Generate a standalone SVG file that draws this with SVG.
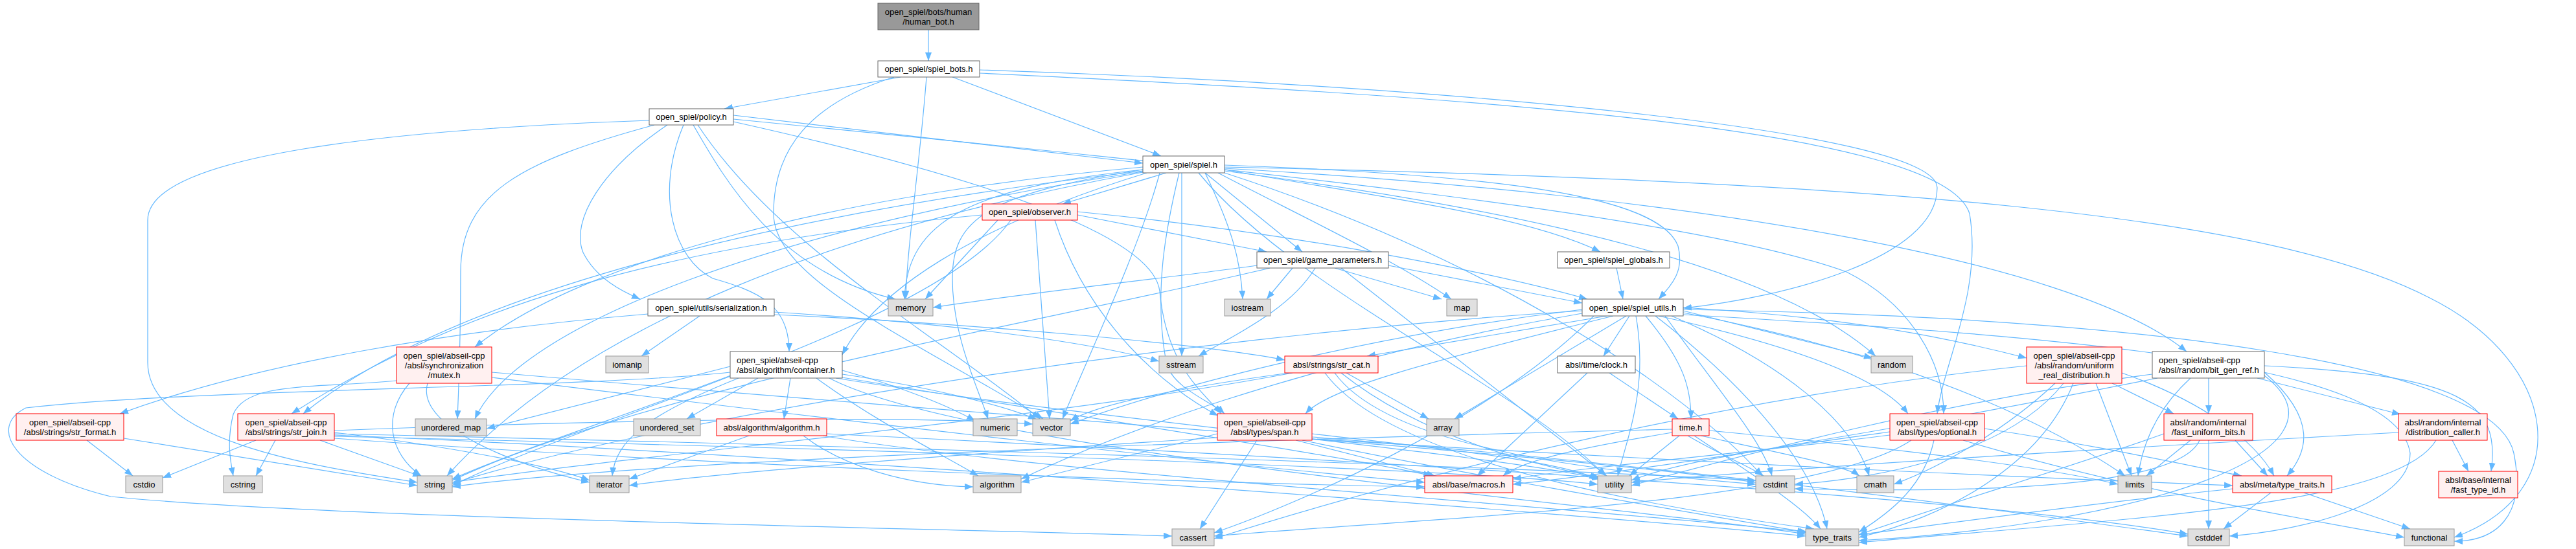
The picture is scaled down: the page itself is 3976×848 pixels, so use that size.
<svg xmlns="http://www.w3.org/2000/svg" width="3976" height="848" viewBox="0 0 3976 848">
<defs>
<marker id="a" markerUnits="userSpaceOnUse" markerWidth="13" markerHeight="10" refX="13" refY="5" orient="auto">
<path d="M0,0 L13,5 L0,10 z" fill="#63B8FF"/>
</marker>
<style>
#edges path{fill:none;stroke:#63B8FF;stroke-width:1.2;marker-end:url(#a)}
.node rect{stroke-width:1}
.w rect{fill:#FFFFFF;stroke:#666666}
.g rect{fill:#E0E0E0;stroke:#999999}
.r rect{fill:#FFF0F0;stroke:#FF0000}
.h rect{fill:#999999;stroke:#666666}
.node text{font-family:"Liberation Sans",Arial,Helvetica,sans-serif;font-size:13px;fill:#000000;text-anchor:middle}
.node text.l{text-anchor:start}
</style>
</defs>
<rect x="0" y="0" width="3976" height="848" fill="#FFFFFF"/>
<g id="edges">
<path d="M1433,46 L1433,94"/>
<path d="M1390,119 L1118,168"/>
<path d="M1470,119 L1792,241"/>
<path d="M1430,119 C1420,250 1400,380 1398,462"/>
<path d="M1512,108 C2200,130 2990,200 2990,290 C2990,400 2750,460 2598,476"/>
<path d="M1512,113 C2300,150 3000,200 3040,330 C3060,450 3000,560 2990,639"/>
<path d="M1380,119 C1250,160 1194,230 1194,330 C1194,430 1400,520 1610,647"/>
<path d="M1002,186 C600,200 228,240 228,340 L228,560 C228,680 480,720 644,745"/>
<path d="M1010,193 C800,250 711,300 711,420 C711,520 708,600 706,647"/>
<path d="M1030,193 C930,260 880,340 900,390 C920,430 960,450 988,462"/>
<path d="M1055,193 C1010,300 1040,400 1100,430 C1170,450 1218,470 1218,543"/>
<path d="M1070,193 C1120,280 1200,420 1382,462"/>
<path d="M1077,193 C1200,380 1450,520 1605,647"/>
<path d="M1132,178 L1764,252"/>
<path d="M1132,184 C1900,260 2600,330 2850,420 C2950,470 3000,560 3000,639"/>
<path d="M1132,188 C1500,270 1780,360 1790,450 C1800,560 1850,600 1885,639"/>
<path d="M1800,267 L1640,315"/>
<path d="M1860,267 L2010,389"/>
<path d="M1890,262 C2100,300 2350,330 2470,389"/>
<path d="M1890,255 C2300,270 2560,300 2590,380 C2600,420 2580,440 2560,462"/>
<path d="M1764,262 C1500,290 1400,340 1396,462"/>
<path d="M1860,267 C1900,350 1915,400 1918,462"/>
<path d="M1880,267 C2000,330 2150,400 2240,462"/>
<path d="M1824,267 L1824,550"/>
<path d="M1764,258 C1300,300 900,400 733,536"/>
<path d="M1764,264 C1200,330 700,450 468,639"/>
<path d="M1764,266 C1300,350 900,500 690,735"/>
<path d="M1790,267 C1760,380 1680,550 1640,647"/>
<path d="M1764,262 C1520,300 1470,340 1470,430 C1470,520 1510,600 1525,647"/>
<path d="M1820,267 C1800,350 1780,450 1800,560 C1810,600 1870,620 1890,639"/>
<path d="M1890,264 C2400,330 2750,420 2895,550"/>
<path d="M1890,258 C2900,280 3500,330 3750,460 C3950,560 3980,760 3788,830"/>
<path d="M1764,265 C1200,350 800,500 733,647"/>
<path d="M1850,267 C2000,450 2350,600 2478,735"/>
<path d="M1890,267 C2300,400 2600,600 2720,735"/>
<path d="M1890,260 C2600,300 3200,400 3375,543"/>
<path d="M1770,267 C1500,350 1350,450 1300,548"/>
<path d="M1663,332 L1955,389"/>
<path d="M1663,327 C2000,360 2300,420 2450,462"/>
<path d="M1540,340 L1428,462"/>
<path d="M1560,340 C1450,500 900,650 698,740"/>
<path d="M1516,332 C1000,380 700,480 450,639"/>
<path d="M1598,340 L1620,647"/>
<path d="M1628,340 C1680,500 1800,600 1880,642"/>
<path d="M1940,410 C1800,430 1600,450 1440,475"/>
<path d="M1995,414 L1955,462"/>
<path d="M2030,414 C1990,480 1900,520 1850,550"/>
<path d="M2060,414 L2225,462"/>
<path d="M2070,414 L2480,735"/>
<path d="M2143,410 L2442,468"/>
<path d="M1960,414 C1600,500 1000,600 698,742"/>
<path d="M2495,414 L2505,462"/>
<path d="M1080,488 L990,550"/>
<path d="M1195,482 C1400,495 1650,520 1789,558"/>
<path d="M1195,486 C1500,500 1850,530 1983,556"/>
<path d="M1000,485 C700,510 400,560 185,639"/>
<path d="M632,592 C590,640 600,700 650,735"/>
<path d="M612,588 C480,600 380,590 360,640 C350,680 355,710 360,735"/>
<path d="M660,592 C640,660 800,720 910,745"/>
<path d="M759,575 C1500,640 2400,700 2710,745"/>
<path d="M759,583 C1300,650 1900,720 2199,745"/>
<path d="M1127,566 L751,662"/>
<path d="M1170,584 L1060,647"/>
<path d="M1220,584 L1210,647"/>
<path d="M1140,584 C1000,640 950,680 945,735"/>
<path d="M1130,580 C950,650 800,700 698,750"/>
<path d="M1127,575 C900,600 300,600 40,630 C-20,660 20,730 171,767 C500,800 1400,815 1809,828"/>
<path d="M1260,584 C1350,650 1450,700 1510,735"/>
<path d="M1300,572 C1400,600 1470,630 1505,650"/>
<path d="M1300,578 C1450,600 1560,630 1600,648"/>
<path d="M1280,584 C1500,700 2500,780 2787,825"/>
<path d="M1290,584 C1700,650 2300,700 2470,740"/>
<path d="M1300,583 C1700,650 2050,700 2210,735"/>
<path d="M1156,673 L971,740"/>
<path d="M1240,673 C1300,720 1400,750 1502,752"/>
<path d="M1270,673 C1600,730 2400,780 2790,822"/>
<path d="M1276,670 C1900,700 3000,760 3377,825"/>
<path d="M134,680 L205,735"/>
<path d="M191,677 L644,750"/>
<path d="M395,680 L251,738"/>
<path d="M425,680 L395,735"/>
<path d="M494,680 L650,736"/>
<path d="M516,668 C700,690 850,720 910,742"/>
<path d="M516,672 C1200,700 2400,790 2787,828"/>
<path d="M516,674 C1200,690 2200,720 2466,748"/>
<path d="M516,665 C900,650 1400,640 1594,655"/>
<path d="M516,677 C1100,720 1800,745 2199,752"/>
<path d="M516,670 C1400,690 2300,720 2710,742"/>
<path d="M1990,576 C1850,595 1700,620 1652,650"/>
<path d="M1995,576 C1600,650 1000,700 698,745"/>
<path d="M2078,576 L2205,647"/>
<path d="M2060,576 C2150,700 2500,730 2710,748"/>
<path d="M2070,576 C2200,680 2380,720 2470,738"/>
<path d="M2045,576 C2150,720 2600,790 2800,817"/>
<path d="M2450,576 L2280,735"/>
<path d="M2484,576 L2590,647"/>
<path d="M2592,673 L2515,735"/>
<path d="M2581,668 C2450,690 2350,710 2320,735"/>
<path d="M2581,663 C1900,680 1000,710 698,752"/>
<path d="M2605,673 C2650,700 2700,720 2722,735"/>
<path d="M2625,673 C2750,700 2850,720 2870,735"/>
<path d="M2638,665 C2900,690 3150,720 3269,748"/>
<path d="M2615,673 C2700,730 2780,780 2810,817"/>
<path d="M1879,670 L1576,745"/>
<path d="M1940,680 L1852,817"/>
<path d="M2025,675 C2600,720 3100,790 3377,828"/>
<path d="M1879,676 C1500,700 1100,730 971,750"/>
<path d="M2010,680 C2300,740 2600,790 2787,822"/>
<path d="M2025,670 C2200,690 2400,710 2466,740"/>
<path d="M2000,680 L2215,735"/>
<path d="M2025,678 C2700,720 3200,740 3446,750"/>
<path d="M2917,667 C2750,690 2600,710 2518,742"/>
<path d="M2917,672 C2700,700 2450,720 2335,740"/>
<path d="M2950,680 C2800,780 2200,800 1874,828"/>
<path d="M2985,680 C2970,750 2920,790 2869,822"/>
<path d="M3030,680 C3300,760 3550,800 3711,830"/>
<path d="M3063,662 C3250,690 3380,720 3460,735"/>
<path d="M3172,592 C3100,660 3000,720 2923,748"/>
<path d="M3200,592 C3150,720 3000,800 2869,830"/>
<path d="M3185,592 C3100,700 2900,740 2770,748"/>
<path d="M3235,592 L3290,735"/>
<path d="M3275,576 C3400,620 3480,680 3510,735"/>
<path d="M3260,592 L3355,639"/>
<path d="M3128,565 C2600,620 2100,760 1874,832"/>
<path d="M3409,584 L3409,639"/>
<path d="M3484,584 L3705,640"/>
<path d="M3495,565 C3800,580 3860,620 3845,728"/>
<path d="M3495,575 C3580,650 3560,700 3530,735"/>
<path d="M3381,584 C3320,640 3305,700 3300,735"/>
<path d="M3495,580 C3650,700 3300,810 2869,835"/>
<path d="M3322,578 C3000,620 2700,700 2518,750"/>
<path d="M3330,584 C3000,650 2600,720 2335,748"/>
<path d="M3381,680 L3313,735"/>
<path d="M3450,680 L3500,735"/>
<path d="M3409,680 L3409,817"/>
<path d="M3395,680 C3360,760 3000,760 2770,755"/>
<path d="M3340,670 C3200,720 3000,780 2869,826"/>
<path d="M3785,680 L3810,728"/>
<path d="M3702,668 C3300,690 2800,720 2518,745"/>
<path d="M3760,680 C3700,780 3300,800 2869,838"/>
<path d="M3505,761 L3432,817"/>
<path d="M3556,761 L3720,817"/>
<path d="M3446,755 C3200,780 3000,810 2869,826"/>
<path d="M2480,488 L2110,550"/>
<path d="M2510,488 L2245,647"/>
<path d="M2515,488 L2475,550"/>
<path d="M2525,488 C2545,600 2510,680 2497,735"/>
<path d="M2540,488 C2600,560 2610,600 2610,647"/>
<path d="M2490,488 C2200,560 2050,600 2015,639"/>
<path d="M2560,488 C2750,530 2900,580 2945,639"/>
<path d="M2598,480 L2890,553"/>
<path d="M2598,475 C2850,490 3000,520 3128,553"/>
<path d="M2570,488 C2650,600 2720,680 2735,735"/>
<path d="M2580,488 C2750,560 2860,650 2885,735"/>
<path d="M2555,488 C2700,600 2800,720 2820,817"/>
<path d="M2598,486 C3200,520 3700,560 3720,700 C3720,780 3550,820 3441,828"/>
<path d="M2598,478 C3300,490 3850,560 3880,700 C3900,800 3850,836 3788,836"/>
<path d="M2442,480 C1800,520 1000,650 698,747"/>
<path d="M2442,478 C2100,520 1800,600 1652,655"/>
<path d="M2442,484 C2000,560 1700,680 1576,740"/>
<path d="M2460,488 C2300,650 2000,780 1874,823"/>
<path d="M2598,483 C3000,560 3200,680 3280,735"/>
</g>
<g id="n_human_bot" class="node h"><rect x="1355" y="5" width="156" height="41"/><text x="1433" y="22.5">open_spiel/bots/human</text><text x="1433" y="37.5">/human_bot.h</text></g>
<g id="n_spiel_bots" class="node w"><rect x="1355" y="94" width="157" height="25"/><text x="1433.5" y="111">open_spiel/spiel_bots.h</text></g>
<g id="n_policy" class="node w"><rect x="1002" y="168" width="130" height="25"/><text x="1067" y="185">open_spiel/policy.h</text></g>
<g id="n_spiel" class="node w"><rect x="1764" y="241" width="126" height="26"/><text x="1827" y="258.5">open_spiel/spiel.h</text></g>
<g id="n_observer" class="node r"><rect x="1516" y="315" width="147" height="25"/><text x="1589.5" y="332">open_spiel/observer.h</text></g>
<g id="n_game_parameters" class="node w"><rect x="1940" y="389" width="203" height="25"/><text x="2041.5" y="406">open_spiel/game_parameters.h</text></g>
<g id="n_spiel_globals" class="node w"><rect x="2404" y="389" width="173" height="25"/><text x="2490.5" y="406">open_spiel/spiel_globals.h</text></g>
<g id="n_serialization" class="node w"><rect x="1000" y="462" width="195" height="26"/><text x="1097.5" y="479.5">open_spiel/utils/serialization.h</text></g>
<g id="n_memory" class="node g"><rect x="1371" y="462" width="69" height="26"/><text x="1405.5" y="479.5">memory</text></g>
<g id="n_iostream" class="node g"><rect x="1890" y="462" width="71" height="26"/><text x="1925.5" y="479.5">iostream</text></g>
<g id="n_map" class="node g"><rect x="2233" y="462" width="47" height="26"/><text x="2256.5" y="479.5">map</text></g>
<g id="n_spiel_utils" class="node w"><rect x="2442" y="462" width="156" height="26"/><text x="2520" y="479.5">open_spiel/spiel_utils.h</text></g>
<g id="n_mutex" class="node r"><rect x="612" y="536" width="147" height="56"/><text x="685.5" y="553.5">open_spiel/abseil-cpp</text><text x="685.5" y="568.5">/absl/synchronization</text><text x="685.5" y="583.5">/mutex.h</text></g>
<g id="n_iomanip" class="node g"><rect x="935" y="550" width="66" height="26"/><text x="968" y="567.5">iomanip</text></g>
<g id="n_container" class="node w"><rect x="1127" y="543" width="173" height="41"/><text class="l" x="1137" y="560.5">open_spiel/abseil-cpp</text><text class="l" x="1137" y="575.5">/absl/algorithm/container.h</text></g>
<g id="n_sstream" class="node g"><rect x="1789" y="550" width="68" height="26"/><text x="1823" y="567.5">sstream</text></g>
<g id="n_str_cat" class="node r"><rect x="1983" y="550" width="144" height="26"/><text x="2055" y="567.5">absl/strings/str_cat.h</text></g>
<g id="n_clock" class="node w"><rect x="2404" y="550" width="120" height="26"/><text x="2464" y="567.5">absl/time/clock.h</text></g>
<g id="n_random" class="node g"><rect x="2888" y="550" width="64" height="26"/><text x="2920" y="567.5">random</text></g>
<g id="n_uniform_real" class="node r"><rect x="3128" y="536" width="147" height="56"/><text x="3201.5" y="553.5">open_spiel/abseil-cpp</text><text x="3201.5" y="568.5">/absl/random/uniform</text><text x="3201.5" y="583.5">_real_distribution.h</text></g>
<g id="n_bit_gen_ref" class="node w"><rect x="3322" y="543" width="173" height="41"/><text class="l" x="3332" y="560.5">open_spiel/abseil-cpp</text><text class="l" x="3332" y="575.5">/absl/random/bit_gen_ref.h</text></g>
<g id="n_str_format" class="node r"><rect x="25" y="639" width="166" height="41"/><text x="108" y="656.5">open_spiel/abseil-cpp</text><text x="108" y="671.5">/absl/strings/str_format.h</text></g>
<g id="n_str_join" class="node r"><rect x="367" y="639" width="149" height="41"/><text x="441.5" y="656.5">open_spiel/abseil-cpp</text><text x="441.5" y="671.5">/absl/strings/str_join.h</text></g>
<g id="n_unordered_map" class="node g"><rect x="641" y="647" width="110" height="26"/><text x="696" y="664.5">unordered_map</text></g>
<g id="n_unordered_set" class="node g"><rect x="978" y="647" width="103" height="26"/><text x="1029.5" y="664.5">unordered_set</text></g>
<g id="n_algorithm_h" class="node r"><rect x="1106" y="647" width="170" height="26"/><text x="1191" y="664.5">absl/algorithm/algorithm.h</text></g>
<g id="n_numeric" class="node g"><rect x="1502" y="647" width="68" height="26"/><text x="1536" y="664.5">numeric</text></g>
<g id="n_vector" class="node g"><rect x="1594" y="647" width="58" height="26"/><text x="1623" y="664.5">vector</text></g>
<g id="n_span" class="node r"><rect x="1879" y="639" width="146" height="41"/><text x="1952" y="656.5">open_spiel/abseil-cpp</text><text x="1952" y="671.5">/absl/types/span.h</text></g>
<g id="n_array" class="node g"><rect x="2202" y="647" width="50" height="26"/><text x="2227" y="664.5">array</text></g>
<g id="n_time" class="node r"><rect x="2581" y="647" width="57" height="26"/><text x="2609.5" y="664.5">time.h</text></g>
<g id="n_optional" class="node r"><rect x="2917" y="639" width="146" height="41"/><text x="2990" y="656.5">open_spiel/abseil-cpp</text><text x="2990" y="671.5">/absl/types/optional.h</text></g>
<g id="n_fast_uniform_bits" class="node r"><rect x="3340" y="639" width="137" height="41"/><text x="3408.5" y="656.5">absl/random/internal</text><text x="3408.5" y="671.5">/fast_uniform_bits.h</text></g>
<g id="n_distribution_caller" class="node r"><rect x="3702" y="639" width="137" height="41"/><text x="3770.5" y="656.5">absl/random/internal</text><text x="3770.5" y="671.5">/distribution_caller.h</text></g>
<g id="n_cstdio" class="node g"><rect x="194" y="735" width="57" height="26"/><text x="222.5" y="752.5">cstdio</text></g>
<g id="n_cstring" class="node g"><rect x="345" y="735" width="60" height="26"/><text x="375" y="752.5">cstring</text></g>
<g id="n_string" class="node g"><rect x="644" y="735" width="54" height="26"/><text x="671" y="752.5">string</text></g>
<g id="n_iterator" class="node g"><rect x="910" y="735" width="61" height="26"/><text x="940.5" y="752.5">iterator</text></g>
<g id="n_algorithm" class="node g"><rect x="1502" y="735" width="74" height="26"/><text x="1539" y="752.5">algorithm</text></g>
<g id="n_macros" class="node r"><rect x="2199" y="735" width="136" height="26"/><text x="2267" y="752.5">absl/base/macros.h</text></g>
<g id="n_utility" class="node g"><rect x="2466" y="735" width="52" height="26"/><text x="2492" y="752.5">utility</text></g>
<g id="n_cstdint" class="node g"><rect x="2710" y="735" width="60" height="26"/><text x="2740" y="752.5">cstdint</text></g>
<g id="n_cmath" class="node g"><rect x="2866" y="735" width="57" height="26"/><text x="2894.5" y="752.5">cmath</text></g>
<g id="n_limits" class="node g"><rect x="3269" y="735" width="52" height="26"/><text x="3295" y="752.5">limits</text></g>
<g id="n_meta_type_traits" class="node r"><rect x="3446" y="735" width="153" height="26"/><text x="3522.5" y="752.5">absl/meta/type_traits.h</text></g>
<g id="n_fast_type_id" class="node r"><rect x="3764" y="728" width="122" height="41"/><text x="3825" y="745.5">absl/base/internal</text><text x="3825" y="760.5">/fast_type_id.h</text></g>
<g id="n_cassert" class="node g"><rect x="1809" y="817" width="65" height="26"/><text x="1841.5" y="834.5">cassert</text></g>
<g id="n_type_traits" class="node g"><rect x="2787" y="817" width="82" height="26"/><text x="2828" y="834.5">type_traits</text></g>
<g id="n_cstddef" class="node g"><rect x="3377" y="817" width="64" height="26"/><text x="3409" y="834.5">cstddef</text></g>
<g id="n_functional" class="node g"><rect x="3711" y="817" width="77" height="26"/><text x="3749.5" y="834.5">functional</text></g>
</svg>
